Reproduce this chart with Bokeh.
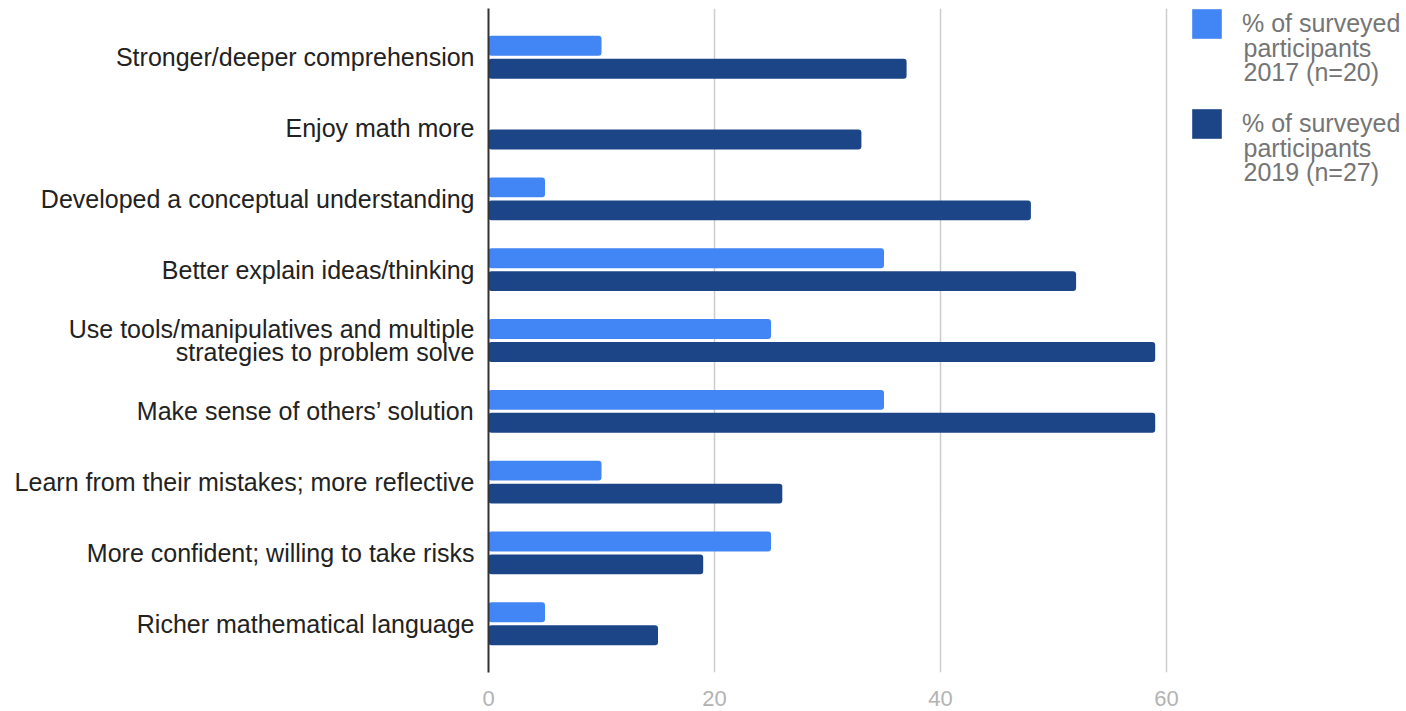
from bokeh.plotting import figure
from bokeh.models import (FactorRange, Range1d, FixedTicker, Legend, LegendItem,
                          ColumnDataSource, Label)
from bokeh.transform import dodge
from bokeh.embed import file_html
from bokeh.resources import INLINE

categories = [
    "Stronger/deeper comprehension",
    "Enjoy math more",
    "Developed a conceptual understanding",
    "Better explain ideas/thinking",
    "Use tools/manipulatives and multiple\nstrategies to problem solve",
    "Make sense of others\u2019 solution",
    "Learn from their mistakes; more reflective",
    "More confident; willing to take risks",
    "Richer mathematical language",
]
pct_2017 = [10, 0, 5, 35, 25, 35, 10, 25, 5]
pct_2019 = [37, 33, 48, 52, 59, 59, 26, 19, 15]
series_lines = [
    ["% of surveyed", "participants", "2017 (n=20)"],
    ["% of surveyed", "participants", "2019 (n=27)"],
]
series_colors = ["#4285f4", "#1c4587"]
x_ticks = [0, 20, 40, 60]

FONT = "Liberation Sans"
LEGEND_COLOR = "#757575"

src = ColumnDataSource(dict(cat=categories, v2017=pct_2017, v2019=pct_2019))

p = figure(
    width=1406, height=711,
    y_range=FactorRange(factors=categories[::-1], range_padding=0.042),
    x_range=Range1d(0, 81.24),
    output_backend="svg", toolbar_location=None,
    min_border_left=488, min_border_right=0, min_border_top=8, min_border_bottom=39,
)
p.outline_line_color = None
p.background_fill_color = "white"
p.border_fill_color = "white"

r1 = p.hbar(y=dodge("cat", 0.162, range=p.y_range), right="v2017", left=0, height=0.281,
            source=src, fill_color=series_colors[0], line_color=None, border_radius=3)
r2 = p.hbar(y=dodge("cat", -0.162, range=p.y_range), right="v2019", left=0, height=0.281,
            source=src, fill_color=series_colors[1], line_color=None, border_radius=3)

p.ygrid.visible = False
p.xgrid.ticker = FixedTicker(ticks=x_ticks)
p.xgrid.grid_line_color = "#cccccc"
p.xgrid.grid_line_width = 1.5

xa = p.xaxis[0]
xa.ticker = FixedTicker(ticks=x_ticks)
xa.axis_line_color = None
xa.major_tick_line_color = None
xa.minor_tick_line_color = None
xa.major_label_text_color = "#b3b3b3"
xa.major_label_text_font = FONT
xa.major_label_text_font_size = "22px"
xa.major_label_standoff = 12

ya = p.yaxis[0]
ya.axis_line_color = "#333333"
ya.axis_line_width = 2
ya.major_tick_line_color = None
ya.minor_tick_line_color = None
ya.major_label_text_color = "#222222"
ya.major_label_text_font = FONT
ya.major_label_text_font_size = "25px"
ya.major_label_text_line_height = 0.82
ya.major_label_standoff = 8

# legend: swatch + first line as a real legend entry, following lines as labels
FRAME_BOTTOM = 672
for renderer, lines, top_px in ((r1, series_lines[0], 5), (r2, series_lines[1], 105)):
    leg = Legend(
        items=[LegendItem(label=lines[0], renderers=[renderer])],
        location=(700, FRAME_BOTTOM - top_px - 37),
        orientation="vertical",
        padding=0, margin=0, spacing=0,
        glyph_width=37, glyph_height=37, label_standoff=17,
        label_text_font=FONT, label_text_font_size="25px", label_text_color=LEGEND_COLOR,
        border_line_color=None, background_fill_alpha=0,
    )
    p.add_layout(leg)
    for k, t in enumerate(lines[1:]):
        baseline = top_px + 42 + 24 * k   # screen y of the text baseline
        p.add_layout(Label(
            x=755, y=FRAME_BOTTOM - baseline, x_units="screen", y_units="screen",
            text=t, text_font=FONT, text_font_size="25px", text_color=LEGEND_COLOR,
            text_baseline="alphabetic", text_align="left",
        ))

open("out.html", "w").write(file_html(p, INLINE))
